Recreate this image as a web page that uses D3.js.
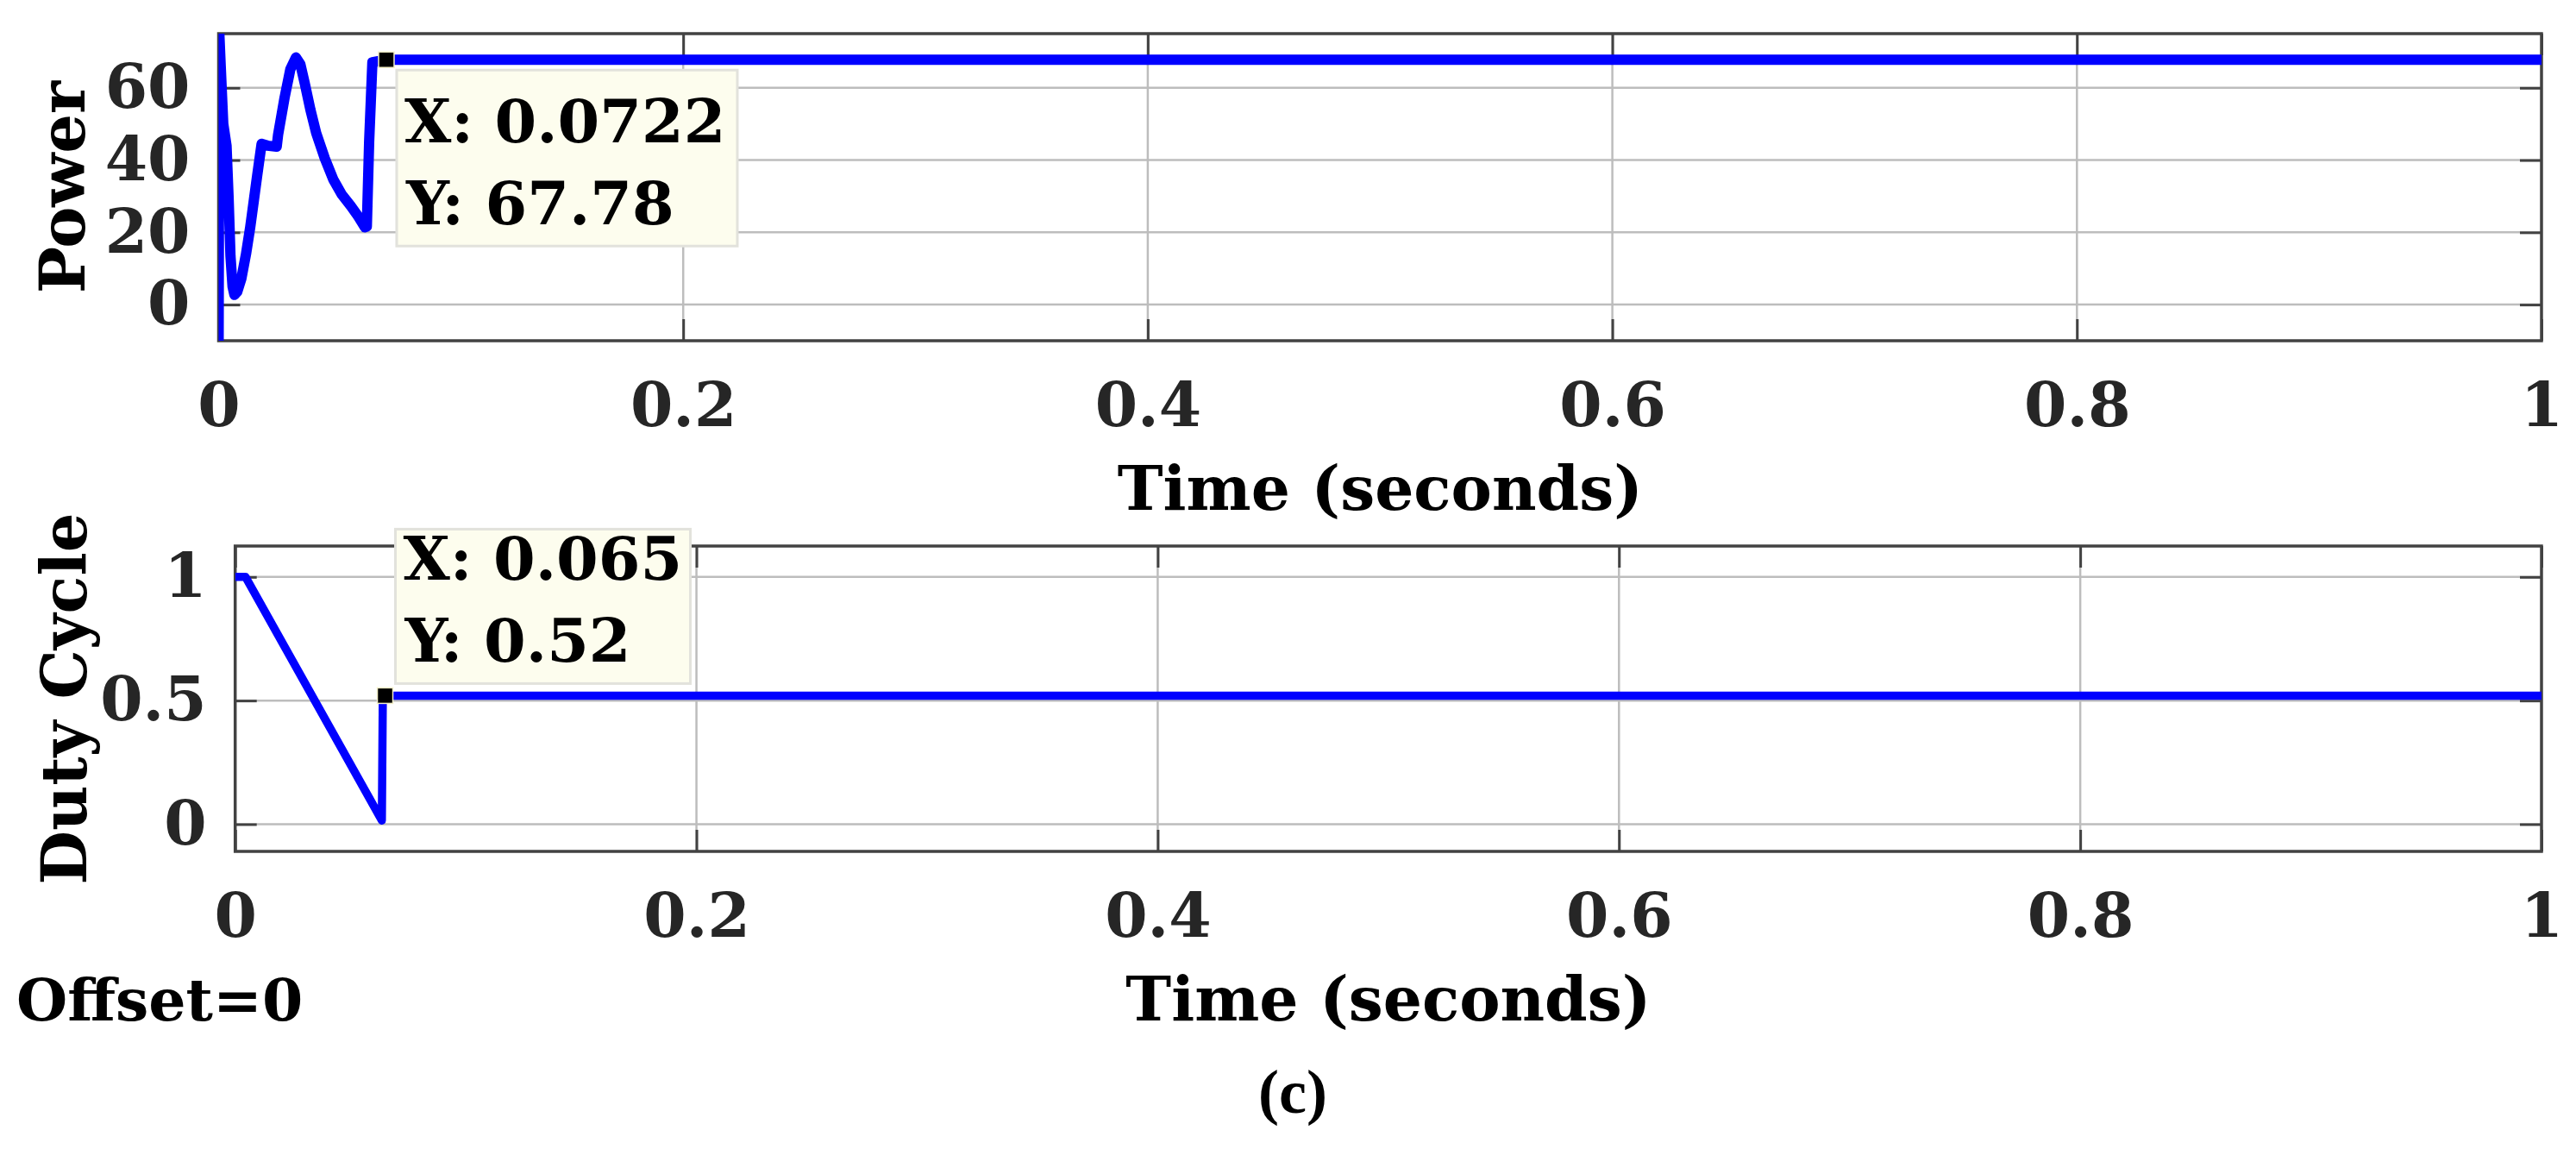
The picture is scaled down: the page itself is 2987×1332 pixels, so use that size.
<!DOCTYPE html>
<html>
<head>
<meta charset="utf-8">
<script src="https://cdn.jsdelivr.net/npm/d3@7"></script>
<style>
  html, body { margin: 0; padding: 0; background: #fff; }
  svg { display: block; }
  text { font-family: "DejaVu Serif", serif; font-weight: bold; }
</style>
</head>
<body>
<svg id="chart" width="2987" height="1332"></svg>
<script>
// ---- data ----
var timeTicks = [0, 0.2, 0.4, 0.6, 0.8, 1];
var powerTicks = [0, 20, 40, 60];
var dutyTicks = [0, 0.5, 1];

// power (W) against time (s)
var powerTime = [0, 0.0003, 0.0009, 0.0020, 0.0034, 0.0043, 0.0051, 0.0060, 0.0068, 0.0080,
  0.0098, 0.0118, 0.0136, 0.0152, 0.0166, 0.0185, 0.0210, 0.0250, 0.0256, 0.0284,
  0.0309, 0.0333, 0.0352, 0.0371, 0.0395, 0.0420, 0.0457, 0.0494, 0.0530, 0.0569,
  0.0600, 0.0630, 0.0638, 0.0648, 0.0662, 0.0722, 1.0];
var powerValue = [-10, 75, 66, 50, 44, 29.4, 13.5, 5, 2.7, 3.5,
  7.2, 14, 21.4, 29, 35.7, 44.5, 44, 43.7, 47, 57.3,
  65.2, 68.4, 66.5, 61.2, 54, 47.5, 40.5, 34.6, 30.5, 27.3,
  24.5, 21.4, 21.6, 45, 67.1, 67.78, 67.78];

// duty cycle against time (s)
var dutyTime = [0, 0.0045, 0.0636, 0.0640, 0.065, 1.0];
var dutyValue = [1.0, 1.0, 0.015, 0.50, 0.52, 0.52];

// data tips [x, y]
var powerTip = [0.0722, 67.78];
var dutyTip = [0.065, 0.52];

// ---- layout ----
var svg = d3.select("#chart");
var tickLen = 25;
var gridColor = "#bdbdbd", boxColor = "#424242", lineColor = "#0000ff";

var panels = [
  {
    id: "p", left: 253.5, right: 2947, top: 39, bottom: 395,
    yDomain: [-10, 75], yTicks: powerTicks, yLabel: "Power", yLabelX: 98,
    time: powerTime, values: powerValue, tip: powerTip, lineWidth: 12,
    box: { dx: 12, dy: 12, w: 395, h: 204, b1: 84, b2: 179 }
  },
  {
    id: "d", left: 272.7, right: 2947, top: 633, bottom: 987,
    yDomain: [-0.11, 1.125], yTicks: dutyTicks, yLabel: "Duty Cycle", yLabelX: 100,
    time: dutyTime, values: dutyValue, tip: dutyTip, lineWidth: 9.5,
    box: { dx: 12, dy: -193, w: 342, h: 179, b1: 59, b2: 154 }
  }
];

panels.forEach(drawPanel);

function drawPanel(p) {
  var x = d3.scaleLinear().domain([0, 1]).range([p.left, p.right]);
  var y = d3.scaleLinear().domain(p.yDomain).range([p.bottom, p.top]);
  var w = p.right - p.left, h = p.bottom - p.top;
  var g = svg.append("g");

  // clip for the trace
  svg.append("clipPath").attr("id", "clip-" + p.id)
    .append("rect").attr("x", p.left).attr("y", p.top).attr("width", w).attr("height", h);

  // grid
  g.append("g").selectAll("line").data(timeTicks.slice(1, -1)).enter().append("line")
    .attr("x1", d => x(d)).attr("x2", d => x(d))
    .attr("y1", p.top).attr("y2", p.bottom)
    .attr("stroke", gridColor).attr("stroke-width", 2.5);
  g.append("g").selectAll("line").data(p.yTicks).enter().append("line")
    .attr("x1", p.left).attr("x2", p.right)
    .attr("y1", d => y(d)).attr("y2", d => y(d))
    .attr("stroke", gridColor).attr("stroke-width", 2.5);

  // ticks on all four sides, pointing inward
  var fmt = d => String(d);
  g.append("g").attr("transform", "translate(0," + p.bottom + ")")
    .call(d3.axisBottom(x).tickValues(timeTicks).tickSizeInner(-tickLen).tickSizeOuter(0)
      .tickPadding(49).tickFormat(fmt));
  g.append("g").attr("transform", "translate(0," + p.top + ")")
    .call(d3.axisTop(x).tickValues(timeTicks).tickSizeInner(-tickLen).tickSizeOuter(0).tickFormat(""));
  g.append("g").attr("transform", "translate(" + p.left + ",0)")
    .call(d3.axisLeft(y).tickValues(p.yTicks).tickSizeInner(-tickLen).tickSizeOuter(0)
      .tickPadding(33).tickFormat(fmt));
  g.append("g").attr("transform", "translate(" + p.right + ",0)")
    .call(d3.axisRight(y).tickValues(p.yTicks).tickSizeInner(-tickLen).tickSizeOuter(0).tickFormat(""));

  g.selectAll(".domain").remove();
  g.selectAll(".tick line").attr("stroke", boxColor).attr("stroke-width", 3);
  g.selectAll(".tick text")
    .attr("fill", "#262626")
    .style("font-family", "'DejaVu Serif', serif")
    .style("font-weight", "bold")
    .style("font-size", "71px");

  // axes box
  g.append("rect")
    .attr("x", p.left).attr("y", p.top).attr("width", w).attr("height", h)
    .attr("fill", "none").attr("stroke", boxColor).attr("stroke-width", 3.5);

  // trace
  var pts = p.time.map((t, i) => [t, p.values[i]]);
  var line = d3.line().x(d => x(d[0])).y(d => y(d[1]));
  g.append("path").datum(pts)
    .attr("clip-path", "url(#clip-" + p.id + ")")
    .attr("d", line)
    .attr("fill", "none").attr("stroke", lineColor)
    .attr("stroke-width", p.lineWidth).attr("stroke-linejoin", "round");

  // axis titles
  g.append("text")
    .attr("transform", "translate(" + p.yLabelX + "," + (p.top + h / 2) + ") rotate(-90)")
    .attr("text-anchor", "middle").attr("fill", "#000")
    .style("font-size", "72px")
    .text(p.yLabel);
  g.append("text")
    .attr("x", p.left + w / 2).attr("y", p.bottom + 196)
    .attr("text-anchor", "middle").attr("fill", "#000")
    .style("font-size", "71px")
    .text("Time (seconds)");

  // data tip
  var mx = x(p.tip[0]), my = y(p.tip[1]);
  var bx = mx + p.box.dx, by = my + p.box.dy;
  g.append("rect")
    .attr("x", bx).attr("y", by).attr("width", p.box.w).attr("height", p.box.h)
    .attr("fill", "#fdfdee").attr("stroke", "#e2e2dc").attr("stroke-width", 3);
  g.append("text").attr("x", bx + 9).attr("y", by + p.box.b1)
    .attr("fill", "#000").style("font-size", "70px")
    .text("X: " + p.tip[0]);
  g.append("text").attr("x", bx + 11).attr("y", by + p.box.b2)
    .attr("fill", "#000").style("font-size", "70px")
    .text("Y: " + p.tip[1]);
  g.append("rect")
    .attr("x", mx - 9).attr("y", my - 9).attr("width", 18).attr("height", 18)
    .attr("fill", "#000").attr("stroke", "#f3efc8").attr("stroke-width", 1.5);
}

// footer texts
svg.append("text").attr("x", 19).attr("y", 1183)
  .attr("fill", "#000").style("font-size", "68px")
  .text("Offset=0");
svg.append("text").attr("x", 1499).attr("y", 1290)
  .attr("text-anchor", "middle").attr("fill", "#000")
  .style("font-family", "'Liberation Serif', serif").style("font-size", "72px")
  .text("(c)");
</script>
</body>
</html>
